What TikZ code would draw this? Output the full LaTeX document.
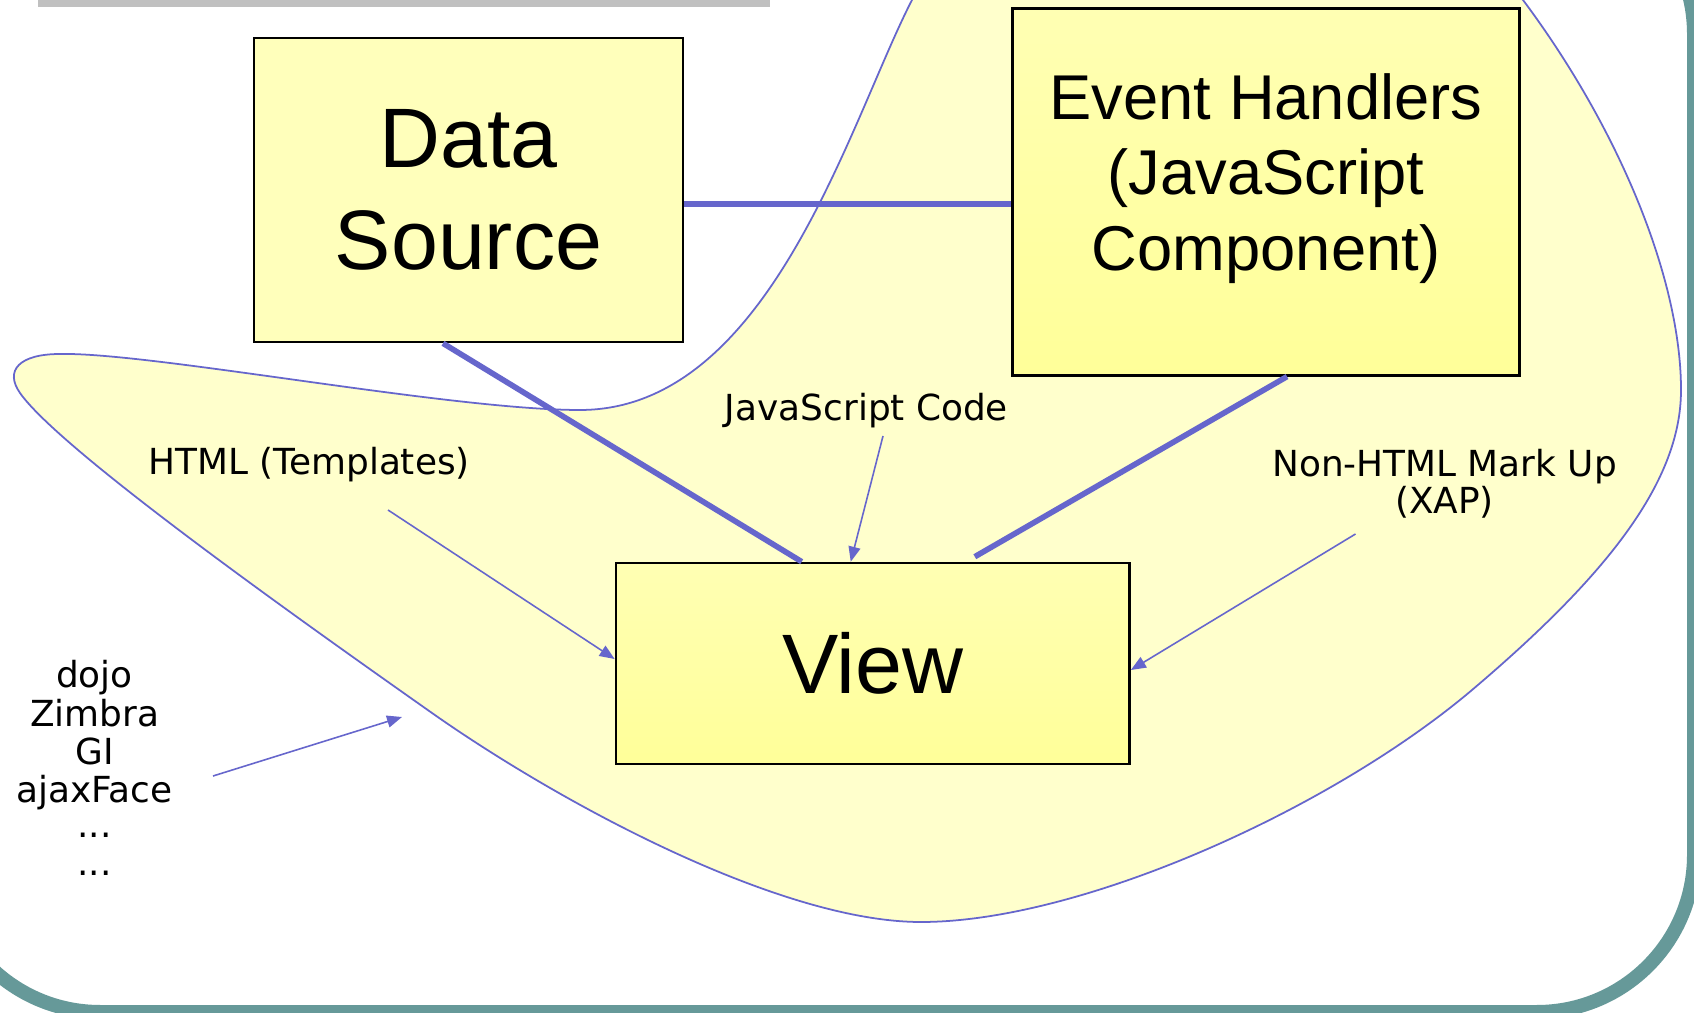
\documentclass[tikz,border=0pt]{standalone}
\usepackage{fontspec}
\usetikzlibrary{positioning, calc, arrows.meta}
\newfontfamily\boxfont{Liberation Sans}
\newfontfamily\notefont{DejaVu Sans}
\definecolor{linkblue}{HTML}{6666CC}
\definecolor{blobyellow}{HTML}{FFFFCC}
\definecolor{paleyellow}{HTML}{FFFFBB}
\definecolor{boxtop}{HTML}{FFFFB3}
\definecolor{boxyellow}{HTML}{FFFF99}
\definecolor{frameteal}{HTML}{669999}
\definecolor{bargray}{HTML}{C0C0C0}

\begin{document}
\begin{tikzpicture}[x=0.01cm, y=-0.01cm,
		box/.style={rectangle, draw, line width=0.7pt, align=center, inner sep=0pt},
		link/.style={draw=linkblue, line width=1.6pt},
		pointer/.style={draw=linkblue, line width=0.45pt, -{Triangle[length=0.15cm, width=0.12cm]}},
		note/.style={font={\notefont\fontsize{10.2}{10.4}\selectfont}, align=center, inner sep=0pt}]
		\useasboundingbox (0,0) rectangle (1694,1013);
		\clip (0,0) rectangle (1694,1013);
		\fill[white] (0,0) rectangle (1694,1013);
		
		% slide frame and title bar
		\fill[bargray] (38,-5) rectangle (770,6.7);
		\draw[frameteal, line width=0.14cm, rounded corners=1.57cm] (-57,-123) rectangle (1694,1012);
		
		% the yellow region behind the view
		\draw[draw=linkblue, line width=0.5pt, fill=blobyellow] (943,-60) -- (912,0)
			.. controls (850,120) and (770,410) .. (580,410)
			.. controls (450,410) and (150,352) .. (60,354)
			.. controls (20,354) and (4,370) .. (20,393)
			.. controls (60,450) and (300,620) .. (432,713)
			.. controls (560,803) and (780,922) .. (921,922)
			.. controls (1080,922) and (1330,810) .. (1472,690)
			.. controls (1610,573) and (1681,480) .. (1681,390)
			.. controls (1681,280) and (1620,130) .. (1523,0) -- (1480,-58) -- cycle;
		
		\node (dataSource)[box, fill=paleyellow, minimum width=4.29cm, minimum height=3.04cm, font={\boxfont\fontsize{24}{29}\selectfont}] at (468.5,190) {Data\\Source};
		\node (eventHandlers)[box, top color=boxtop, bottom color=boxyellow, minimum width=5.065cm, minimum height=3.665cm, text depth=0.4cm, font={\boxfont\fontsize{18}{21.5}\selectfont}] at (1266,192) {Event Handlers\\(JavaScript\\Component)};
		\node (view)[box, top color=boxtop, bottom color=boxyellow, minimum width=5.135cm, minimum height=2.01cm, font={\boxfont\fontsize{24}{29}\selectfont}] at (872.75,663.5) {View};
		
		\node (jsCode)[note, anchor=base] at (866.5,421) {JavaScript Code};
		\node (htmlTemplates)[note, anchor=base] at (309,475) {HTML (Templates)};
		\node (nonHtml)[note] at (1444.5,484) {Non-HTML Mark Up\\(XAP)};
		\node (toolkits)[note, font={\notefont\fontsize{10.2}{10.9}\selectfont}] at (94.5,768) {dojo\\Zimbra\\GI\\ajaxFace\\[-0.04cm]...\\...};
		
		\coordinate (jsFrom) at (883,436);
		\coordinate (htmlFrom) at (388,510);
		\coordinate (xapFrom) at (1355.5,534);
		\coordinate (toolkitsFrom) at (213,776);
		\coordinate (toolkitsTo) at (402,717);
		
		\draw[link] ([yshift=-0.14cm]dataSource.east) -- ([yshift=-0.14cm]dataSource.east -| eventHandlers.west);
		\draw[link] ([xshift=-0.255cm]dataSource.south) -- ([xshift=-0.71cm]view.north);
		\draw[link] ([xshift=0.21cm]eventHandlers.south) -- ([xshift=1.02cm, yshift=0.05cm]view.north);
		
		\draw[pointer] (jsFrom) -- ([xshift=-0.22cm]view.north);
		\draw[pointer] (htmlFrom) -- ([yshift=0.045cm]view.west);
		\draw[pointer] (xapFrom) -- ([yshift=-0.065cm]view.east);
		\draw[pointer] (toolkitsFrom) -- (toolkitsTo);
	\end{tikzpicture}
\end{document}
